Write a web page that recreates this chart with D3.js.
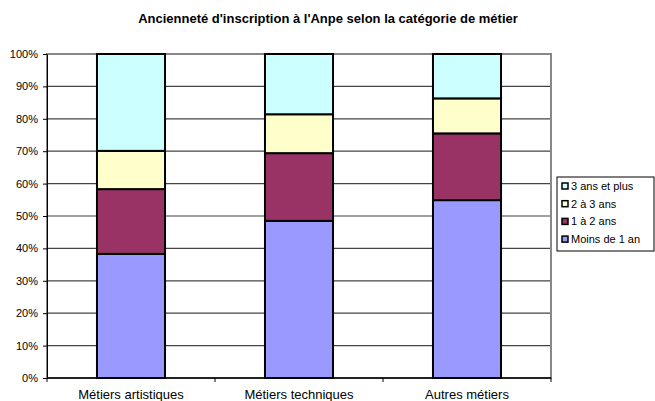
<!DOCTYPE html>
<html>
<head>
  <meta charset="utf-8">
  <title>Ancienneté d'inscription</title>
  <style>
  body { margin: 0; background: #fff; }
  text { font-family: "Liberation Sans", Arial, sans-serif; fill: #000; }
  </style>
</head>
<body>
<svg width="655" height="401"></svg>
<script src="https://d3js.org/d3.v7.min.js"></script>
<script>

var categories = ["Métiers artistiques", "Métiers techniques", "Autres métiers"];
var seriesNames = ["Moins de 1 an", "1 à 2 ans", "2 à 3 ans", "3 ans et plus"];
var seriesColors = ["#9999ff", "#993366", "#ffffcc", "#ccffff"];
// percent values per series, one per category
var moins1 = [38.3, 48.5, 54.9];
var un2 = [20.0, 20.9, 20.6];
var deux3 = [11.8, 12.0, 10.8];
var troisPlus = [29.9, 18.6, 13.7];
var yTicks = [0, 10, 20, 30, 40, 50, 60, 70, 80, 90, 100];

var svg = d3.select("svg");
var plotLeft = 47, plotRight = 551, plotTop = 54, plotBottom = 378;

var x = d3.scaleBand().domain(categories).range([plotLeft, plotRight]).paddingInner(0.595).paddingOuter(0.2975);
var y = d3.scaleLinear().domain([0, 100]).range([plotBottom, plotTop]);

var rows = categories.map(function(c, i) {
  return { cat: c, s0: moins1[i], s1: un2[i], s2: deux3[i], s3: troisPlus[i] };
});
var layers = d3.stack().keys(["s0", "s1", "s2", "s3"])(rows);

// title
svg.append("text")
    .attr("x", 328).attr("y", 23)
    .attr("text-anchor", "middle")
    .style("font-size", "13px").style("font-weight", "bold")
    .text("Ancienneté d'inscription à l'Anpe selon la catégorie de métier");

// gridlines
svg.append("g").selectAll("line")
  .data(yTicks.slice(1))
  .enter().append("line")
    .attr("x1", plotLeft).attr("x2", plotRight)
    .attr("y1", function(d) { return y(d); })
    .attr("y2", function(d) { return y(d); })
    .attr("stroke", "#444").attr("stroke-width", 1.2);

// plot border
svg.append("rect")
    .attr("x", plotLeft).attr("y", plotTop)
    .attr("width", plotRight - plotLeft).attr("height", plotBottom - plotTop)
    .attr("fill", "none").attr("stroke", "#888").attr("stroke-width", 2);

// bars
svg.append("g").selectAll("g")
  .data(layers)
  .enter().append("g")
    .attr("fill", function(d, i) { return seriesColors[i]; })
  .selectAll("rect")
  .data(function(d) { return d; })
  .enter().append("rect")
    .attr("x", function(d) { return x(d.data.cat); })
    .attr("width", x.bandwidth())
    .attr("y", function(d) { return y(d[1]); })
    .attr("height", function(d) { return y(d[0]) - y(d[1]); })
    .attr("stroke", "#000").attr("stroke-width", 2);

// y axis
var yAxis = svg.append("g")
    .attr("transform", "translate(" + plotLeft + ",0)")
    .call(d3.axisLeft(y).tickValues(yTicks).tickSize(4).tickSizeOuter(0)
      .tickFormat(function(d) { return d + "%"; }));
yAxis.select(".domain").attr("stroke", "#000");
yAxis.selectAll("text").style("font-size", "11px").attr("x", -9);

// x axis
svg.append("line")
    .attr("x1", plotLeft).attr("x2", plotRight)
    .attr("y1", plotBottom).attr("y2", plotBottom)
    .attr("stroke", "#000").attr("stroke-width", 1.5);
var step = (plotRight - plotLeft) / categories.length;
svg.append("g").selectAll("line")
  .data(d3.range(categories.length + 1))
  .enter().append("line")
    .attr("x1", function(d) { return plotLeft + d * step; })
    .attr("x2", function(d) { return plotLeft + d * step; })
    .attr("y1", plotBottom).attr("y2", plotBottom + 4)
    .attr("stroke", "#000");
svg.append("g").selectAll("text")
  .data(categories)
  .enter().append("text")
    .attr("x", function(d) { return x(d) + x.bandwidth() / 2; })
    .attr("y", 399)
    .attr("text-anchor", "middle")
    .style("font-size", "13px")
    .text(function(d) { return d; });

// legend
var legend = svg.append("g").attr("transform", "translate(557,177)");
legend.append("rect")
    .attr("width", 97).attr("height", 74)
    .attr("fill", "#fff").attr("stroke", "#000");
var items = legend.selectAll("g")
  .data(seriesNames.slice().reverse())
  .enter().append("g")
    .attr("transform", function(d, i) { return "translate(5," + (9 + i * 17.7) + ")"; });
items.append("rect")
    .attr("x", 0).attr("y", -3).attr("width", 6).attr("height", 6)
    .attr("fill", function(d) { return seriesColors[seriesNames.indexOf(d)]; })
    .attr("stroke", "#000").attr("stroke-width", 1.5);
items.append("text")
    .attr("x", 9).attr("y", 4)
    .style("font-size", "11px")
    .text(function(d) { return d; });

</script>
</body>
</html>
